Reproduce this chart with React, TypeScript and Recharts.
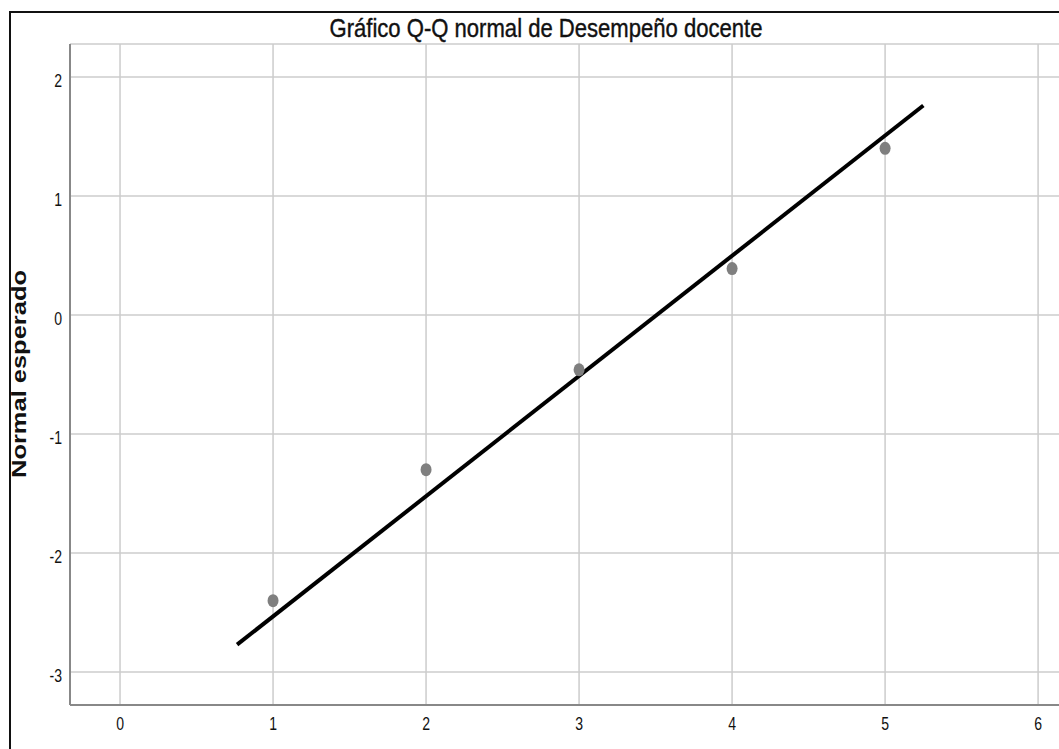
import React from 'react';
import { ComposedChart, Scatter, XAxis, YAxis, CartesianGrid } from 'recharts';

// Observed values (x) vs expected normal (y)
const observed = [1, 2, 3, 4, 5];
const expectedNormal = [-2.4, -1.3, -0.46, 0.39, 1.4];

// Reference line endpoints
const lineX = [0.765, 5.25];
const lineY = [-2.77, 1.76];

const xTicks = [0, 1, 2, 3, 4, 5, 6];
const yTicks = [-3, -2, -1, 0, 1, 2];

const points = observed.map((x, i) => ({ x, y: expectedNormal[i] }));
const fitLine = lineX.map((x, i) => ({ x, y: lineY[i] }));

const FONT = '"Liberation Sans", Arial, sans-serif';

const XTick = ({ x, y, payload }: any) => (
  <text
    transform={`translate(${x},${y + 17}) scale(0.78,1)`}
    textAnchor="middle"
    fontSize={18}
    fontFamily={FONT}
    fill="#111"
  >
    {payload.value}
  </text>
);

const YTick = ({ x, y, payload }: any) => (
  <text
    transform={`translate(${x},${y + 10}) scale(0.78,1)`}
    textAnchor="end"
    fontSize={18}
    fontFamily={FONT}
    fill="#111"
  >
    {payload.value}
  </text>
);

const Dot = ({ cx, cy }: any) => (
  <ellipse cx={cx} cy={cy} rx={5.5} ry={6.5} fill="#7f7f7f" />
);

export default function App() {
  return (
    <div
      style={{
        position: 'fixed',
        left: 0,
        top: 0,
        width: 1059,
        height: 749,
        overflow: 'hidden',
        background: '#fff',
      }}
    >
      {/* outer frame */}
      <div
        style={{
          position: 'absolute',
          left: 9,
          top: 11,
          width: 1200,
          height: 900,
          borderLeft: '2px solid #111',
          borderTop: '2px solid #111',
        }}
      />
      <div style={{ position: 'absolute', left: 0, top: 0 }}>
        <ComposedChart
          width={1100}
          height={749}
          margin={{ top: 44, right: 16, bottom: 0, left: 0 }}
        >
          <CartesianGrid stroke="#cccccc" strokeWidth={1.5} />
          <XAxis
            type="number"
            dataKey="x"
            domain={[-0.327, 6.3]}
            ticks={xTicks}
            allowDataOverflow
            height={44}
            axisLine={{ stroke: '#888', strokeWidth: 2 }}
            tickLine={false}
            tick={<XTick />}
          />
          <YAxis
            type="number"
            dataKey="y"
            domain={[-3.277, 2.277]}
            ticks={yTicks}
            allowDataOverflow
            width={70}
            axisLine={{ stroke: '#888', strokeWidth: 2 }}
            tickLine={false}
            tick={<YTick />}
          />
          <Scatter
            data={fitLine}
            line={{ stroke: '#000', strokeWidth: 4 }}
            shape={() => null}
            isAnimationActive={false}
          />
          <Scatter data={points} shape={<Dot />} isAnimationActive={false} />
        </ComposedChart>
      </div>
      <svg
        width={1059}
        height={749}
        style={{ position: 'absolute', left: 0, top: 0, pointerEvents: 'none' }}
      >
        <text
          x={546}
          y={37}
          textAnchor="middle"
          fontSize={25}
          fontFamily={FONT}
          fill="#111"
          stroke="#111"
          strokeWidth={0.4}
          textLength={433}
          lengthAdjust="spacingAndGlyphs"
        >
          Gráfico Q-Q normal de Desempeño docente
        </text>
        <text
          transform="translate(26,374) rotate(-90)"
          textAnchor="middle"
          fontSize={20}
          fontWeight="bold"
          fontFamily={FONT}
          fill="#111"
          textLength={208}
          lengthAdjust="spacingAndGlyphs"
        >
          Normal esperado
        </text>
      </svg>
    </div>
  );
}
